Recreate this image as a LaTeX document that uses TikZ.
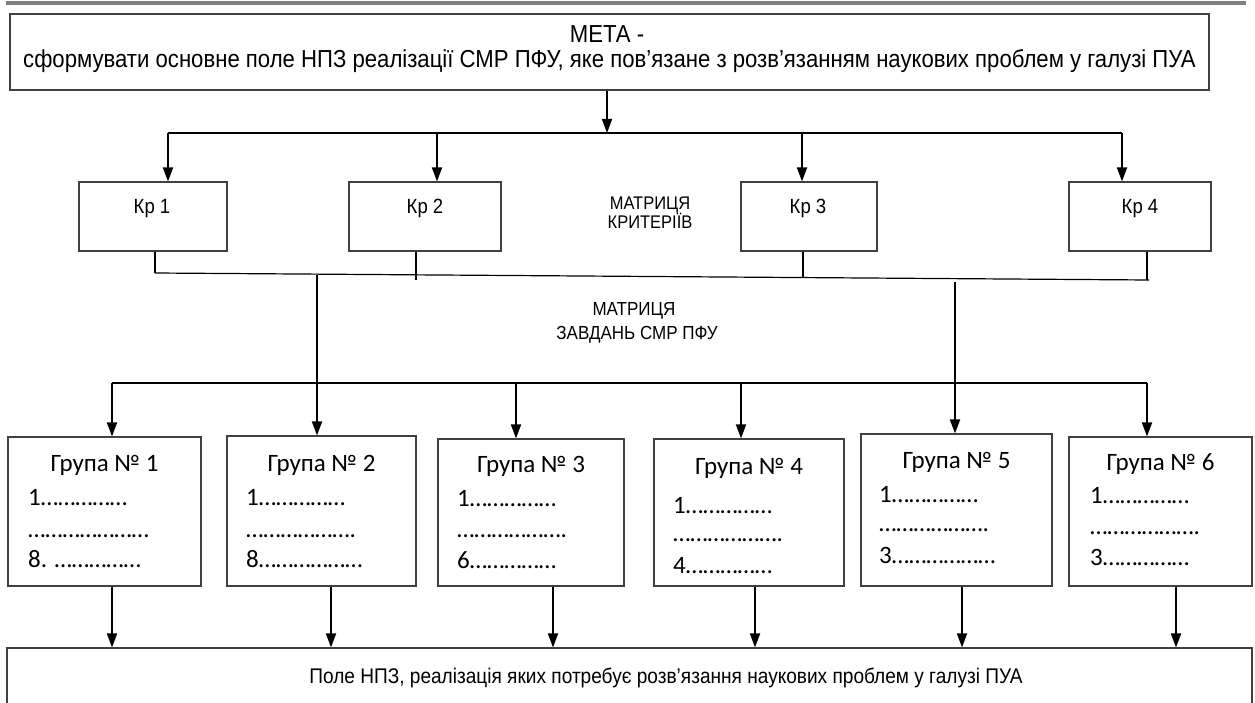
\documentclass[tikz,border=0pt]{standalone}
\usepackage{fontspec}
\setmainfont[FakeStretch=0.9]{Liberation Sans}
\newfontfamily\carl{Carlito}
\usetikzlibrary{arrows.meta}
\begin{document}
\begin{tikzpicture}[x=1pt,y=-1pt,
  box/.style={draw=black!75, line width=1.1pt, inner sep=0pt, fill=white},
  arr/.style={line width=1.8pt, -{Triangle[length=14pt,width=10pt]}},
  ln/.style={line width=1.2pt},
  big/.style={font=\fontsize{24.6}{28}\selectfont, inner sep=0pt},
  krf/.style={font=\fontsize{20.6}{24}\selectfont, inner sep=0pt},
  mid/.style={font=\fontsize{18.3}{21}\selectfont, inner sep=0pt},
  midb/.style={font=\fontsize{18.9}{22}\selectfont, inner sep=0pt},
  btm/.style={font=\fontsize{21.2}{25}\selectfont, inner sep=0pt},
  gt/.style={font=\carl\fontsize{25}{28}\selectfont, inner sep=0pt, anchor=base},
  gi/.style={font=\carl\fontsize{25}{28}\selectfont, inner sep=0pt, anchor=base west},
]
\useasboundingbox (0,0) rectangle (1255,703);
\clip (0,0) rectangle (1255,703);

% top grey rule
\coordinate (ra) at (6,3);
\coordinate (rb) at (1246,3);
\draw[line width=3.5pt, black!50] (ra) -- (rb);

% goal box
\node[box, minimum width=1199pt, minimum height=76pt] (meta) at (609.5,52) {};
\node[big, anchor=base] (meta1) at (607,43) {МЕТА -};
\node[big, anchor=base] (meta2) at (609.5,68) {сформувати основне поле НПЗ реалізації СМР ПФУ, яке пов’язане з розв’язанням наукових проблем у галузі ПУА};

% criteria boxes
\node[box, minimum width=148pt, minimum height=69pt] (kr1) at (153,216.5) {};
\node[box, minimum width=152pt, minimum height=69pt] (kr2) at (425,216.5) {};
\node[box, minimum width=136pt, minimum height=69pt] (kr3) at (809,216.5) {};
\node[box, minimum width=142pt, minimum height=69pt] (kr4) at (1140,216.5) {};
\node[krf, anchor=base] (kr1t) at (152,214) {Кр 1};
\node[krf, anchor=base] (kr2t) at (425,214) {Кр 2};
\node[krf, anchor=base] (kr3t) at (808,214) {Кр 3};
\node[krf, anchor=base] (kr4t) at (1140,214) {Кр 4};

\node[mid, anchor=base] (mk1) at (650,210) {МАТРИЦЯ};
\node[mid, anchor=base] (mk2) at (650,229) {КРИТЕРІЇВ};

% top bus
\coordinate (tj) at (607,133);
\coordinate (b1) at (168,133);
\coordinate (b2) at (437,133);
\coordinate (b3) at (802,133);
\coordinate (b4) at (1122,133);
\draw[arr] (meta.south -| tj) -- (tj);
\draw[ln] (b1) -- (b4);
\draw[arr] (b1) -- (b1 |- kr1.north);
\draw[arr] (b2) -- (b2 |- kr2.north);
\draw[arr] (b3) -- (b3 |- kr3.north);
\draw[arr] (b4) -- (b4 |- kr4.north);

% criteria bus
\coordinate (c1) at (155,273);
\coordinate (c2) at (416,280);
\coordinate (c3) at (803,278);
\coordinate (c4) at (1147,280);
\coordinate (c5) at (1149,280);
\draw[ln] (kr1.south -| c1) -- (c1);
\draw[ln] (kr2.south -| c2) -- (c2);
\draw[ln] (kr3.south -| c3) -- (c3);
\draw[ln] (kr4.south -| c4) -- (c4);
\draw[ln] (c1) -- (c5);

\node[midb, anchor=base] (mz1) at (634,315) {МАТРИЦЯ};
\node[midb, anchor=base] (mz2) at (637,339) {ЗАВДАНЬ СМР ПФУ};

% group boxes
\node[box, minimum width=193pt, minimum height=149pt] (g1) at (104.5,511.5) {};
\node[box, minimum width=189pt, minimum height=150pt] (g2) at (321.5,511) {};
\node[box, minimum width=186pt, minimum height=147pt] (g3) at (531,512.5) {};
\node[box, minimum width=190pt, minimum height=147pt] (g4) at (749,512.5) {};
\node[box, minimum width=191pt, minimum height=152pt] (g5) at (956.5,510) {};
\node[box, minimum width=183pt, minimum height=149pt] (g6) at (1160.5,511.5) {};

% long verticals
\coordinate (v1) at (317,275);
\coordinate (v2) at (955,282);
\draw[arr] (v1) -- (v1 |- g2.north);
\draw[arr] (v2) -- (v2 |- g5.north);

% task bus
\coordinate (t1) at (112,383);
\coordinate (t3) at (516,383);
\coordinate (t4) at (741,383);
\coordinate (t6) at (1147,383);
\draw[ln] (t1) -- (t6);
\draw[arr] (t1) -- (t1 |- g1.north);
\draw[arr] (t3) -- (t3 |- g3.north);
\draw[arr] (t4) -- (t4 |- g4.north);
\draw[arr] (t6) -- (t6 |- g6.north);

% group texts
\node[gt] (g1t) at (104.5,471) {Група № 1};
\node[gi] (g1a) at (28,505) {1……………};
\node[gi] (g1b) at (28,537) {…………………};
\node[gi] (g1c) at (28,567) {8. ……………};

\node[gt] (g2t) at (321.5,471) {Група № 2};
\node[gi] (g2a) at (246,505) {1……………};
\node[gi] (g2b) at (246,537) {……………….};
\node[gi] (g2c) at (246,567) {8………………};

\node[gt] (g3t) at (531,472) {Група № 3};
\node[gi] (g3a) at (457,506) {1……………};
\node[gi] (g3b) at (457,537) {……………….};
\node[gi] (g3c) at (457,568) {6……………};

\node[gt] (g4t) at (749,474) {Група № 4};
\node[gi] (g4a) at (673,513) {1……………};
\node[gi] (g4b) at (673,541) {……………….};
\node[gi] (g4c) at (673,573) {4……………};

\node[gt] (g5t) at (956.5,468) {Група № 5};
\node[gi] (g5a) at (879,502) {1……………};
\node[gi] (g5b) at (879,531) {……………….};
\node[gi] (g5c) at (879,563) {3………………};

\node[gt] (g6t) at (1160.5,470) {Група № 6};
\node[gi] (g6a) at (1090,503) {1……………};
\node[gi] (g6b) at (1090,534) {……………….};
\node[gi] (g6c) at (1090,565) {3……………};

% bottom box
\node[box, minimum width=1245pt, minimum height=80pt] (pole) at (629.5,688) {};
\node[btm, anchor=base] (polet) at (666,683) {Поле НПЗ, реалізація яких потребує розв’язання наукових проблем у галузі ПУА};

\coordinate (d1) at (112,0);
\coordinate (d2) at (331,0);
\coordinate (d3) at (553,0);
\coordinate (d4) at (755,0);
\coordinate (d5) at (962,0);
\coordinate (d6) at (1176,0);
\draw[arr] (g1.south -| d1) -- (pole.north -| d1);
\draw[arr] (g2.south -| d2) -- (pole.north -| d2);
\draw[arr] (g3.south -| d3) -- (pole.north -| d3);
\draw[arr] (g4.south -| d4) -- (pole.north -| d4);
\draw[arr] (g5.south -| d5) -- (pole.north -| d5);
\draw[arr] (g6.south -| d6) -- (pole.north -| d6);
\end{tikzpicture}
\end{document}
